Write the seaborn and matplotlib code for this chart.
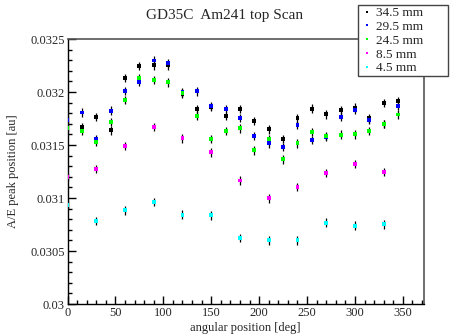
import matplotlib
matplotlib.use("Agg")
import matplotlib.pyplot as plt
import matplotlib.ticker as mticker
import pandas as pd
import seaborn as sns

angles_fine = [0, 15, 30, 45, 60, 75, 90, 105, 120, 135, 150, 165,
               180, 195, 210, 225, 240, 255, 270, 285, 300, 315, 330, 345]
angles_coarse = [0, 30, 60, 90, 120, 150, 180, 210, 240, 270, 300, 330]

ae_345 = [0.031854, 0.031667, 0.031764, 0.031638, 0.032131, 0.032247, 0.032252, 0.032250,
          0.031982, 0.031840, 0.031859, 0.031774, 0.031840, 0.031726, 0.031648, 0.031559,
          0.031752, 0.031843, 0.031790, 0.031830, 0.031852, 0.031752, 0.031897, 0.031916]
ae_295 = [0.031736, 0.031807, 0.031556, 0.031824, 0.032010, 0.032098, 0.032297, 0.032276,
          0.032001, 0.032006, 0.031866, 0.031840, 0.031755, 0.031584, 0.031515, 0.031483,
          0.031691, 0.031546, 0.031578, 0.031767, 0.031830, 0.031736, 0.031698, 0.031871]
ae_245 = [0.031660, 0.031632, 0.031530, 0.031717, 0.031925, 0.032131, 0.032115, 0.032091,
          0.031991, 0.031777, 0.031556, 0.031632, 0.031657, 0.031449, 0.031559, 0.031364,
          0.031515, 0.031625, 0.031584, 0.031597, 0.031600, 0.031634, 0.031698, 0.031788]
ae_85 = [0.031196, 0.031272, 0.031490, 0.031672, 0.031562, 0.031430,
         0.031165, 0.030997, 0.031104, 0.031237, 0.031319, 0.031243]
ae_45 = [0.030937, 0.030782, 0.030884, 0.030962, 0.030843, 0.030836,
         0.030625, 0.030600, 0.030600, 0.030767, 0.030739, 0.030751]
ae_err = 0.00004

labels = ["34.5 mm", "29.5 mm", "24.5 mm", "8.5 mm", "4.5 mm"]
colors = ["black", "#0000ff", "#00ff00", "#ff00ff", "#00ffff"]

series = [(angles_fine, ae_345), (angles_fine, ae_295), (angles_fine, ae_245),
          (angles_coarse, ae_85), (angles_coarse, ae_45)]
frames = []
for lab, (x, y) in zip(labels, series):
    frames.append(pd.DataFrame({"angle": x, "ae": y, "height": lab}))
df = pd.concat(frames, ignore_index=True)

sns.set_style("ticks")
plt.rcParams["font.family"] = ["Liberation Serif", "DejaVu Serif"]

fig = plt.figure(figsize=(4.5, 3.36), dpi=100)
ax = fig.add_axes([0.15, 0.0952, 0.7922, 0.7887])

for lab in labels:
    sub = df[df["height"] == lab]
    ax.errorbar(sub["angle"], sub["ae"], yerr=ae_err, fmt="none",
                ecolor="black", elinewidth=0.9, capsize=0, zorder=2)

sns.scatterplot(data=df, x="angle", y="ae", hue="height", hue_order=labels,
                palette=colors, marker="s", s=8, linewidth=0, ax=ax, zorder=3)

ax.set_xlim(0, 372)
ax.set_ylim(0.03, 0.0325)
ax.xaxis.set_major_locator(mticker.MultipleLocator(50))
ax.xaxis.set_minor_locator(mticker.MultipleLocator(10))
ax.yaxis.set_major_locator(mticker.MultipleLocator(0.0005))
ax.yaxis.set_minor_locator(mticker.MultipleLocator(0.0001))
ax.yaxis.set_major_formatter(mticker.FormatStrFormatter("%g"))
ax.tick_params(which="both", direction="in", labelsize=9, width=1, color="black")
ax.tick_params(which="major", length=6)
ax.tick_params(which="minor", length=3)
ax.tick_params(axis="x", pad=2)
ax.tick_params(axis="y", pad=2)

for side in ["left", "bottom"]:
    ax.spines[side].set_color("black")
    ax.spines[side].set_linewidth(1)
for side in ["top", "right"]:
    ax.spines[side].set_visible(True)
    ax.spines[side].set_color("#555555")
    ax.spines[side].set_linewidth(1.2)

ax.set_xlabel("angular position [deg]", fontsize=9, labelpad=2)
ax.set_ylabel("A/E peak position [au]", fontsize=9, labelpad=8)
fig.text(0.5, 0.955, "GD35C  Am241 top Scan", ha="center", va="center", fontsize=11)

sns.move_legend(ax, "upper left",
                bbox_to_anchor=(358 / 450, 1 - 75 / 336, 90 / 450, 70 / 336),
                bbox_transform=fig.transFigure, mode="expand", title=None,
                frameon=True, fancybox=False, fontsize=9.5, markerscale=0.6,
                handletextpad=0.2, borderpad=0.15, labelspacing=0.12,
                handlelength=1.0, borderaxespad=0)
leg = ax.get_legend()
leg.get_frame().set_edgecolor("#444444")
leg.get_frame().set_linewidth(1)
leg.get_frame().set_alpha(1)
leg.set_zorder(10)

fig.savefig("out.png", dpi=100, facecolor="white")
